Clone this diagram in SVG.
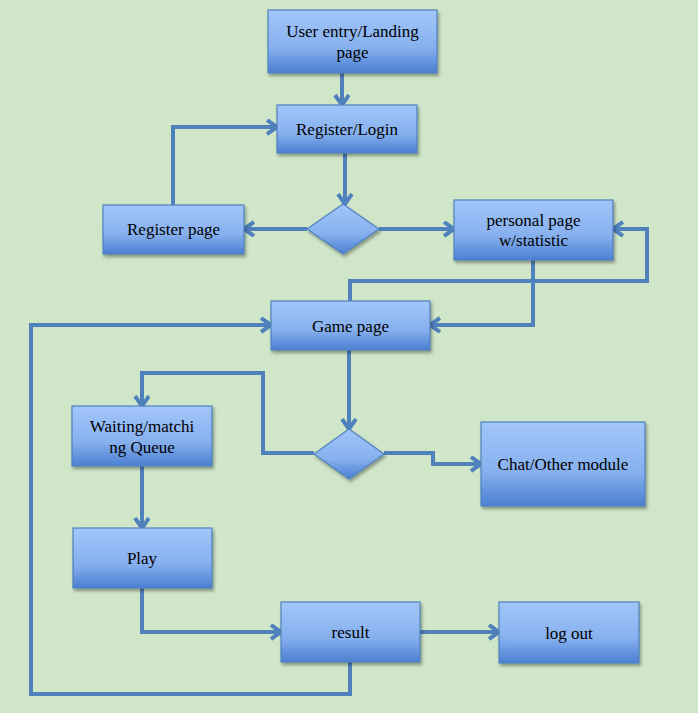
<svg xmlns="http://www.w3.org/2000/svg" width="698" height="713" viewBox="0 0 698 713">
<defs>
<linearGradient id="g" x1="0" y1="0" x2="0" y2="1">
<stop offset="0" stop-color="#a3c6fa"/>
<stop offset="0.6" stop-color="#86b0ee"/>
<stop offset="1" stop-color="#4b7fd2"/>
</linearGradient>
<filter id="sh" x="-10%" y="-10%" width="125%" height="135%">
<feDropShadow dx="1.5" dy="2.5" stdDeviation="1.5" flood-color="#000" flood-opacity="0.35"/>
</filter>
<marker id="a" markerUnits="userSpaceOnUse" markerWidth="16" markerHeight="18" refX="11" refY="8" orient="auto">
<path d="M1,1 L11,8 L1,15" fill="none" stroke="#4f81bd" stroke-width="4" stroke-linejoin="miter"/>
</marker>
</defs>
<style>
.n{fill:url(#g);stroke:#4f81bd;stroke-width:1.2;filter:url(#sh)}
.t{font-family:'Liberation Serif','Times New Roman','DejaVu Serif',serif;font-size:17px;fill:#000;text-anchor:middle}
.c{fill:none;stroke:#4f81bd;stroke-width:4}
</style>
<rect width="698" height="713" fill="#d0e6c9"/>
<g id="connectors">
<path class="c" d="M342,73 V105" marker-end="url(#a)"/>
<path class="c" d="M173,205 V127 H277" marker-end="url(#a)"/>
<path class="c" d="M345,153 V204" marker-end="url(#a)"/>
<path class="c" d="M307,229 H244" marker-end="url(#a)"/>
<path class="c" d="M379,229 H454" marker-end="url(#a)"/>
<path class="c" d="M533,260 V325 H430" marker-end="url(#a)"/>
<path class="c" d="M350,301 V281 H647 V229 H613" marker-end="url(#a)"/>
<path class="c" d="M350,662 V694 H31 V325 H271" marker-end="url(#a)"/>
<path class="c" d="M349,350 V429" marker-end="url(#a)"/>
<path class="c" d="M314,453 H263 V373 H142 V406" marker-end="url(#a)"/>
<path class="c" d="M384,453 H433 V464 H481" marker-end="url(#a)"/>
<path class="c" d="M142,466 V528" marker-end="url(#a)"/>
<path class="c" d="M142,588 V632 H281" marker-end="url(#a)"/>
<path class="c" d="M420,632 H499" marker-end="url(#a)"/>
</g>
<g id="landing"><rect class="n" x="268" y="10" width="169" height="63"/><text class="t" x="352.5" y="37">User entry/Landing</text><text class="t" x="352.5" y="58">page</text></g>
<g id="register-login"><rect class="n" x="277" y="105" width="140" height="48"/><text class="t" x="347" y="135">Register/Login</text></g>
<g id="register-page"><rect class="n" x="103" y="205" width="141" height="49"/><text class="t" x="173.5" y="235">Register page</text></g>
<g id="decision1"><polygon class="n" points="343,204 379,229 343,254 307,229"/></g>
<g id="personal-page"><rect class="n" x="454" y="200" width="159" height="60"/><text class="t" x="533.5" y="226">personal page</text><text class="t" x="533.5" y="246">w/statistic</text></g>
<g id="game-page"><rect class="n" x="271" y="301" width="159" height="49"/><text class="t" x="350.5" y="332">Game page</text></g>
<g id="decision2"><polygon class="n" points="349,429 384,454 349,479 314,454"/></g>
<g id="waiting-queue"><rect class="n" x="72" y="406" width="140" height="60"/><text class="t" x="142" y="432">Waiting/matchi</text><text class="t" x="142" y="453">ng Queue</text></g>
<g id="chat-module"><rect class="n" x="481" y="422" width="164" height="84"/><text class="t" x="563" y="470">Chat/Other module</text></g>
<g id="play"><rect class="n" x="73" y="528" width="139" height="60"/><text class="t" x="142" y="564">Play</text></g>
<g id="result"><rect class="n" x="281" y="602" width="139" height="60"/><text class="t" x="350.5" y="638">result</text></g>
<g id="logout"><rect class="n" x="499" y="602" width="140" height="61"/><text class="t" x="569" y="639">log out</text></g>
</svg>
